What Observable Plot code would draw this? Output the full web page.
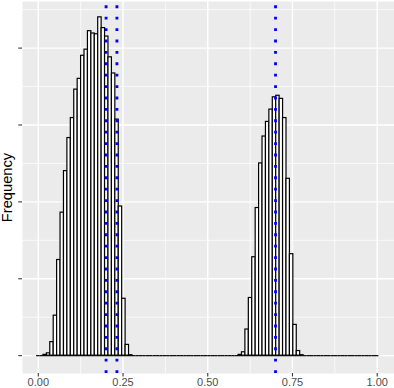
<!DOCTYPE html>
<html>
<head>
<meta charset="utf-8">
<script src="https://cdn.jsdelivr.net/npm/d3@7"></script>
<script src="https://cdn.jsdelivr.net/npm/@observablehq/plot@0.6"></script>
<style>
  html, body { margin: 0; padding: 0; background: #ffffff; }
  #chart { width: 394px; height: 388px; }
</style>
</head>
<body>
<div id="chart"></div>
<script>
// ---- data ----
const binLo = 0;          // centre of first bin
const binHi = 1;          // centre of last bin
const binCount = 100;
const counts = [
  0, 0, 5, 15, 88, 260, 622, 930, 1200, 1415,
  1545, 1730, 1800, 1950, 1990, 2110, 2095, 2090, 2200, 2130,
  2075, 1940, 1835, 1535, 970, 370, 70, 3, 0, 0,
  0, 0, 0, 0, 0, 0, 0, 0, 0, 0,
  0, 0, 0, 0, 0, 0, 0, 0, 0, 0,
  0, 0, 0, 0, 0, 0, 0, 0, 0, 5,
  22, 170, 375, 640, 960, 1250, 1425, 1520, 1600, 1680,
  1690, 1670, 1545, 1150, 660, 200, 30, 3, 0, 0,
  0, 0, 0, 0, 0, 0, 0, 0, 0, 0,
  0, 0, 0, 0, 0, 0, 0, 0, 0, 0
];
const vlines = [0.2, 0.232, 0.7];
const xMajor = [0, 0.25, 0.5, 0.75, 1];
const xMinor = [0.125, 0.375, 0.625, 0.875];
const xTickLabels = ["0.00", "0.25", "0.50", "0.75", "1.00"];
const yMajor = [0, 500, 1000, 1500, 2000];
const yMinor = [250, 750, 1250, 1750, 2250];
const yTitle = "Frequency";

// ---- build bins ----
const binWidth = (binHi - binLo) / (binCount - 1);
const bins = counts.map((c, i) => {
  const mid = binLo + i * binWidth;
  return { x1: mid - binWidth / 2, x2: mid + binWidth / 2, count: c };
});
const nonZero = bins.filter(d => d.count > 0);

const xDomain = [-0.04662, 1.05105];
const yDomain = [-116, 2303];

const chart = Plot.plot({
  width: 394,
  height: 388,
  marginLeft: 22,
  marginRight: 0,
  marginTop: 1,
  marginBottom: 15,
  style: { fontFamily: "'Liberation Sans', Arial, sans-serif", background: "#ffffff", overflow: "visible" },
  x: { domain: xDomain, axis: null },
  y: { domain: yDomain, axis: null },
  marks: [
    Plot.frame({ fill: "#EBEBEB", stroke: null }),
    Plot.ruleX(xMinor, { stroke: "#ffffff", strokeWidth: 0.71 }),
    Plot.ruleY(yMinor, { stroke: "#ffffff", strokeWidth: 0.71 }),
    Plot.ruleX(xMajor, { stroke: "#ffffff", strokeWidth: 1.42 }),
    Plot.ruleY(yMajor, { stroke: "#ffffff", strokeWidth: 1.42 }),
    Plot.ruleY(bins, { x1: "x1", x2: "x2", y: 0, stroke: "#000000", strokeWidth: 1.2 }),
    Plot.rectY(nonZero, { x1: "x1", x2: "x2", y: "count", fill: "#ffffff", stroke: "#000000", strokeWidth: 1.2 }),
    Plot.ruleX(vlines, { x: d => d, y1: yDomain[0], y2: yDomain[1], stroke: "#0000FF", strokeWidth: 2.85, strokeDasharray: "2.85,8.55" }),
    Plot.axisX(xMajor, {
      tickSize: 3.5, tickPadding: 1.1, fontSize: 11,
      stroke: "#333333", strokeWidth: 1.07, fill: "#4D4D4D",
      tickFormat: (d, i) => xTickLabels[i], label: null
    }),
    Plot.axisY(yMajor, {
      tickSize: 3.7, stroke: "#333333", strokeWidth: 1.07,
      tickFormat: () => "", label: null
    }),
    Plot.text([yTitle], {
      text: d => d, frameAnchor: "left", dx: -15, rotate: -90,
      fontSize: 14.67, fill: "#000000", textAnchor: "middle", lineAnchor: "middle"
    })
  ]
});
document.getElementById("chart").appendChild(chart);
</script>
</body>
</html>
